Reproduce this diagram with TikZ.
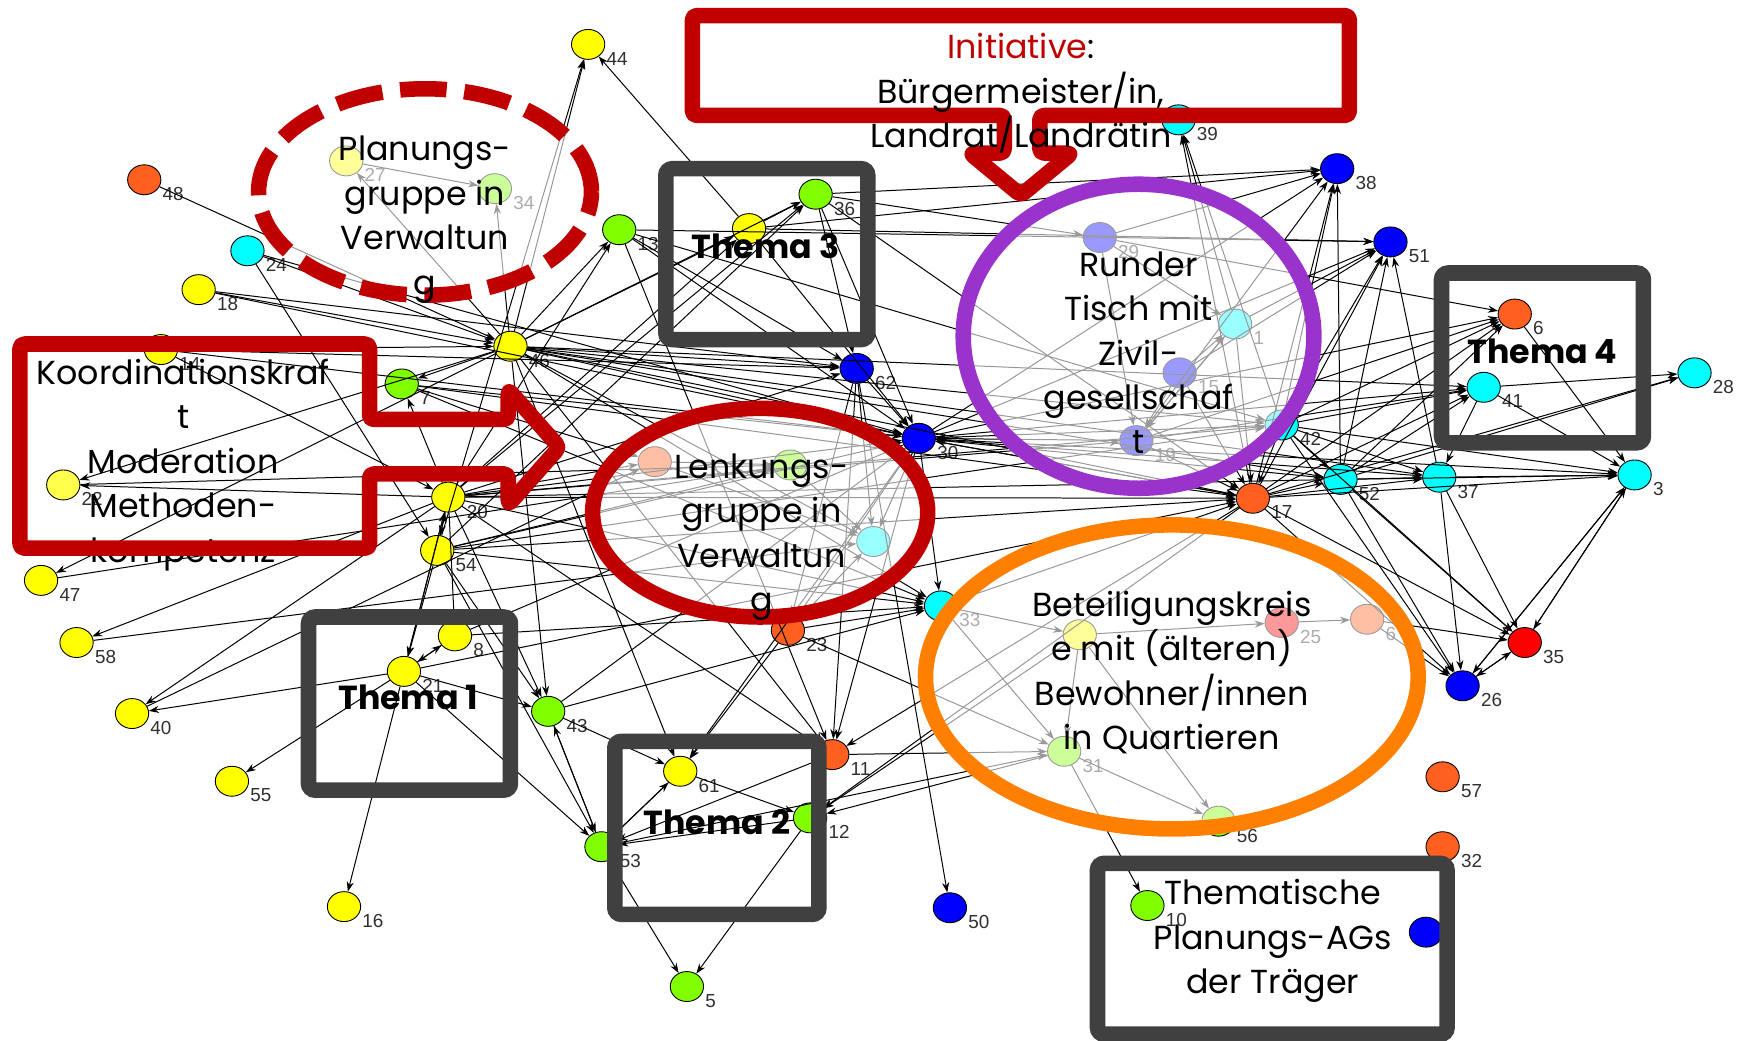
\documentclass[tikz,border=0pt]{standalone}
\usepackage{fontspec}
\setmainfont{Poppins}
\newfontfamily\lblfont{Liberation Sans}
\usetikzlibrary{shapes.geometric,arrows.meta}
\definecolor{cyel}{HTML}{FFFF00}
\definecolor{cgrn}{HTML}{80FF00}
\definecolor{ccyn}{HTML}{00FFFF}
\definecolor{cblu}{HTML}{0000FF}
\definecolor{corg}{HTML}{FF6020}
\definecolor{cred}{HTML}{FF0000}
\definecolor{dred}{HTML}{C00000}
\definecolor{boxgray}{HTML}{404040}
\definecolor{cpurp}{HTML}{9933CC}
\definecolor{corng}{HTML}{FF8000}
\definecolor{lblgray}{HTML}{303030}
\tikzset{
 nd/.style={ellipse, draw=black, line width=0.4pt, minimum width=15pt, minimum height=13.5pt, inner sep=0pt},
 lb/.style={label={[lbl]-20:#1}},
 lbl/.style={font=\lblfont\fontsize{8.5}{9}\selectfont, text=lblgray, inner sep=0.5pt, anchor=north west, label distance=0.5pt},
 edg/.style={-{Stealth[length=4.5pt,width=3.2pt]}, line width=0.45pt, black},
 ring/.style={line width=7pt, fill=white, fill opacity=0.6, draw opacity=1},
 tbox/.style={line width=7pt, draw=boxgray, rounded corners=3pt},
 callout/.style={line width=7pt, draw=dred, rounded corners=2pt, line join=round},
 bigtxt/.style={font=\fontsize{15}{20}\selectfont, align=center, text=black, inner sep=0pt},
 thema/.style={font=\bfseries\fontsize{15}{18}\selectfont, inner sep=0pt},
}
\begin{document}
\begin{tikzpicture}[x=0.5pt,y=-0.5pt]
\fill[white] (0,0) rectangle (1568,938);
\useasboundingbox (0,0) rectangle (1568,938);
% ---------- nodes ----------
\node[nd,fill=cyel,lb=44] (n44) at (530,40) {};
\node[nd,fill=corg,lb=48] (n48) at (130,162) {};
\node[nd,fill=cyel,lb=27] (n27) at (312,145) {};
\node[nd,fill=cgrn,lb=34] (n34) at (446,170) {};
\node[nd,fill=ccyn,lb=24] (n24) at (223,226) {};
\node[nd,fill=cyel,lb=18] (n18) at (179,261) {};
\node[nd,fill=cgrn,lb=13] (n13) at (558,207) {};
\node[nd,fill=cgrn,lb=36] (n36) at (735,175) {};
\node[nd,fill=cyel] (n9) at (675,206) {};
\node[nd,fill=cyel,lb=14] (n14) at (145,315) {};
\node[nd,fill=cyel,lb=46] (n46) at (460,312) {};
\node[nd,fill=cgrn,lb=7] (n7) at (362,346) {};
\node[nd,fill=cblu,lb=62] (n62) at (772,332) {};
\node[nd,fill=cyel!70!white,lb=22] (n22) at (57,437) {};
\node[nd,fill=cyel,lb=20] (n20) at (404,448) {};
\node[nd,fill=cyel,lb=54] (n54) at (394,496) {};
\node[nd,fill=cyel,lb=47] (n47) at (37,523) {};
\node[nd,fill=cyel,lb=58] (n58) at (69,579) {};
\node[nd,fill=cyel,lb=8] (n8) at (410,573) {};
\node[nd,fill=cyel,lb=21] (n21) at (364,605) {};
\node[nd,fill=cyel,lb=40] (n40) at (119,643) {};
\node[nd,fill=cyel,lb=55] (n55) at (209,704) {};
\node[nd,fill=cyel,lb=16] (n16) at (310,817) {};
\node[nd,fill=cgrn,lb=43] (n43) at (494,641) {};
\node[nd,fill=cgrn,lb=53] (n53) at (542,763) {};
\node[nd,fill=cyel,lb=61] (n61) at (613,695) {};
\node[nd,fill=cgrn,lb=12] (n12) at (730,737) {};
\node[nd,fill=corg,lb=11] (n11) at (750,680) {};
\node[nd,fill=corg,lb=23] (n23) at (710,568) {};
\node[nd,fill=cgrn,lb=5] (n5) at (619,889) {};
\node[nd,fill=cblu,lb=50] (n50) at (856,818) {};
\node[nd,fill=corg] (n2) at (590,416) {};
\node[nd,fill=cgrn] (n4) at (712,419) {};
\node[nd,fill=ccyn] (n59) at (787,488) {};
\node[nd,fill=cblu,lb=30] (n30) at (828,395) {};
\node[nd,fill=ccyn,lb=33] (n33) at (848,546) {};
\node[nd,fill=cblu,lb=29] (n29) at (991,214) {};
\node[nd,fill=ccyn,lb=1] (n1) at (1113,292) {};
\node[nd,fill=cblu,lb=15] (n15) at (1063,336) {};
\node[nd,fill=cblu,lb=19] (n19) at (1024,397) {};
\node[nd,fill=ccyn,lb=39] (n39) at (1062,108) {};
\node[nd,fill=cblu,lb=38] (n38) at (1205,152) {};
\node[nd,fill=cblu,lb=51] (n51) at (1253,218) {};
\node[nd,fill=corg,lb=6] (n6) at (1365,283) {};
\node[nd,fill=ccyn,lb=41] (n41) at (1337,349) {};
\node[nd,fill=ccyn,lb=28] (n28) at (1527,336) {};
\node[nd,fill=ccyn,lb=42] (n42) at (1155,383) {};
\node[nd,fill=corg,lb=17] (n17) at (1129,449) {};
\node[nd,fill=ccyn,lb=52] (n52) at (1208,432) {};
\node[nd,fill=ccyn,lb=37] (n37) at (1297,430) {};
\node[nd,fill=ccyn,lb=3] (n3) at (1473,428) {};
\node[nd,fill=cred,lb=35] (n35) at (1374,579) {};
\node[nd,fill=cblu,lb=26] (n26) at (1318,618) {};
\node[nd,fill=cred,lb=25] (n25) at (1155,561) {};
\node[nd,fill=corg,lb=6] (n60) at (1232,558) {};
\node[nd,fill=cyel] (n45) at (973,572) {};
\node[nd,fill=cgrn,lb=31] (n31) at (959,677) {};
\node[nd,fill=cgrn,lb=56] (n56) at (1098,740) {};
\node[nd,fill=corg,lb=57] (n57) at (1300,700) {};
\node[nd,fill=corg,lb=32] (n32) at (1300,763) {};
\node[nd,fill=cgrn,lb=10] (n10) at (1034,816) {};
\node[nd,fill=cblu] (n49) at (1285,840) {};
% ---------- edges ----------
\foreach \a/\b in {46/44,54/44,9/44,46/13,20/13,46/36,9/36,20/36,54/36,46/9,20/9,
 48/46,24/46,24/54,18/46,18/30,14/46,14/20,14/30,46/7,20/7,7/30,7/33,46/22,20/22,
 46/47,20/58,21/40,20/40,21/55,21/16,20/21,21/20,54/21,8/21,21/8,20/54,54/20,20/8,
 20/43,46/43,21/43,54/43,43/53,53/43,21/53,54/53,43/61,53/61,61/53,23/61,30/61,46/61,
 11/53,12/53,53/5,12/5,61/12,31/12,17/12,45/12,62/11,30/11,46/11,20/11,13/11,17/11,
 11/31,30/23,62/23,62/50,30/33,20/33,54/33,23/33,46/33,43/33,20/62,46/62,36/62,13/62,
 62/30,46/30,20/30,54/30,8/30,43/30,19/30,42/30,52/30,17/30,
 30/38,30/51,30/6,30/41,30/3,30/37,30/17,9/38,36/38,13/51,
 17/38,42/38,52/38,19/38,29/38,17/51,42/51,52/51,37/51,15/51,1/51,
 42/6,17/6,52/6,19/6,6/3,29/6,42/41,17/41,52/41,19/41,41/28,41/37,17/28,52/28,
 37/3,52/3,42/3,17/3,41/3,3/35,35/3,3/26,26/3,52/37,42/37,17/37,42/52,17/52,
 42/17,19/17,15/17,1/17,33/17,46/17,20/17,52/35,42/35,17/35,37/35,35/26,26/35,60/35,
 42/26,52/26,37/26,17/26,17/39,42/39,1/39,31/56,31/10,
 2/4,4/59,2/59,20/2,46/59,62/59,30/59,54/4,7/2,23/59,
 29/1,15/1,19/1,15/19,29/19,1/19,25/60,45/25,45/31,33/45,33/31,23/31,45/56,60/26,
 46/34,46/27,27/34,20/19,54/42,21/17,53/31,
 46/37,46/52,46/42,20/42,20/52,7/17,24/30,18/62,14/62,46/41,13/30,9/30,36/17,36/30,
 9/51,54/17,8/33,22/4,47/4,58/59,40/2,13/42,36/29}
 \draw[edg] (n\a) -- (n\b);
% ---------- Koordination text (under its border) ----------
\node[bigtxt] (tkoord) at (165,419) {Koordinationskraf\\t\\Moderation\\Methoden-\\kompetenz};
% ---------- rings with white veil ----------
\draw[ring, draw=dred, dash pattern=on 21pt off 8pt] (383,173) ellipse [x radius=75pt, y radius=46.5pt];
\draw[ring, draw=dred] (685,462) ellipse [x radius=75.5pt, y radius=47pt];
\draw[ring, draw=cpurp] (1026,303) ellipse [x radius=79pt, y radius=68.5pt];
\draw[ring, draw=corng] (1056,610) ellipse [x radius=111pt, y radius=68.5pt];
% ---------- gray theme boxes ----------
\draw[tbox] (600,152) rectangle (782,306);
\draw[tbox] (1299,246) rectangle (1481,399);
\draw[tbox] (278,556) rectangle (460,712);
\draw[tbox] (554,668) rectangle (738,824);
\draw[tbox] (989,778) rectangle (1304,932);
% ---------- red callouts ----------
\draw[callout] (624,14) -- (1216,14) -- (1216,104) -- (937,104) -- (937,138) -- (966,138)
 -- (920,176) -- (874,138) -- (905,138) -- (905,104) -- (624,104) -- cycle;
\draw[callout] (18,310) -- (333,310) -- (333,378) -- (458,378) -- (458,351) -- (504,403)
 -- (458,455) -- (458,427) -- (333,427) -- (333,494) -- (18,494) -- cycle;
% ---------- texts ----------
\node[bigtxt] (tplan) at (383,198) {Planungs-\\gruppe in\\Verwaltun\\g};
\node[bigtxt] (tinit) at (920,84) {\textcolor{dred}{Initiative}:\\Bürgermeister/in,\\Landrat/Landrätin};
\node[bigtxt] (trund) at (1026,318) {Runder\\Tisch mit\\Zivil-\\gesellschaf\\t};
\node[bigtxt] (tlenk) at (686,484) {Lenkungs-\\gruppe in\\Verwaltun\\g};
\node[bigtxt] (tbet) at (1056,606) {Beteiligungskreis\\e mit (älteren)\\Bewohner/innen\\in Quartieren};
\node[bigtxt] (tthem) at (1147,848) {Thematische\\Planungs-AGs\\der Träger};
\node[thema] (th3) at (690,222) {Thema 3};
\node[thema] (th4) at (1390,317) {Thema 4};
\node[thema] (th1) at (368,628) {Thema 1};
\node[thema] (th2) at (646,741) {Thema 2};
\end{tikzpicture}
\end{document}
